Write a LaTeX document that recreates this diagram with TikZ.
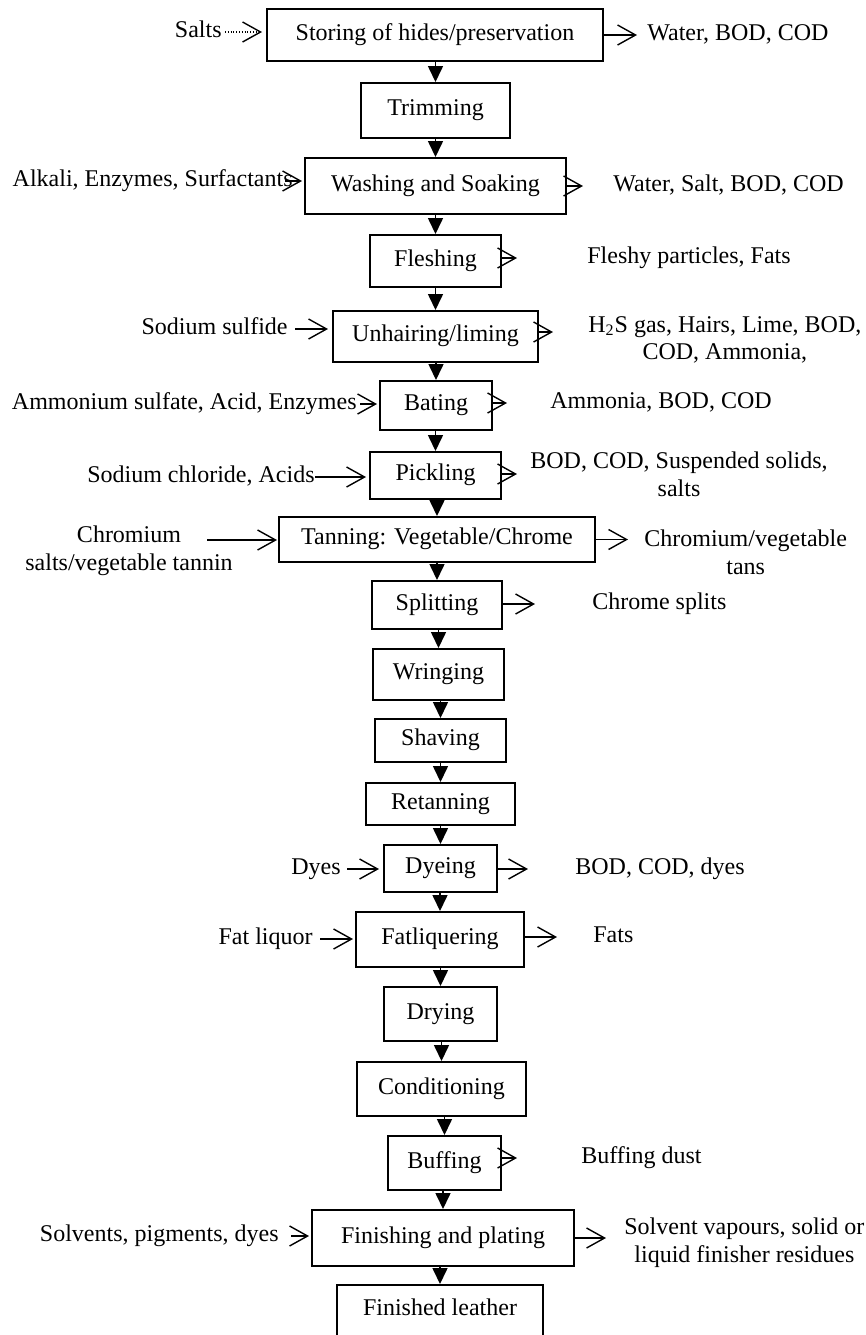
\documentclass[tikz,border=0pt]{standalone}
\usepackage{fontspec}
\setmainfont{Liberation Serif}
\usetikzlibrary{arrows.meta}
\newcommand{\myfs}{\fontsize{12pt}{13.8pt}\selectfont}
\begin{document}
\begin{tikzpicture}[x=0.5pt,y=-0.5pt,
  box/.style={draw,line width=1pt,inner sep=0pt,text height=8pt,text depth=3pt,font=\myfs},
  lbl/.style={inner sep=0pt,font=\myfs,text height=8pt,text depth=2.5pt},
  mlbl/.style={inner sep=0pt,font=\myfs,align=center},
  down/.style={line width=0.8pt,-{Triangle[length=8pt,width=7.5pt]}},
  arr/.style={line width=0.7pt,-{Straight Barb[length=9pt,width=10pt,line width=0.7pt]}},
  dots/.style={line width=0.6pt,dash pattern=on 0.5pt off 0.9pt}]
\useasboundingbox (0,0) rectangle (866,1335);
% process boxes
\node[box,minimum width=168pt,minimum height=26pt] (b1) at (435,35) {Storing of hides/preservation};
\node[box,minimum width=74.5pt,minimum height=27.5pt] (b2) at (435.5,110.5) {Trimming};
\node[box,minimum width=130.5pt,minimum height=28pt] (b3) at (435.5,186) {Washing and Soaking};
\node[box,minimum width=65.5pt,minimum height=26pt] (b4) at (435.5,261) {Fleshing};
\node[box,minimum width=102.5pt,minimum height=25.5pt] (b5) at (435.5,336.5) {Unhairing/liming};
\node[box,minimum width=56pt,minimum height=24.5pt] (b6) at (436,405.5) {Bating};
\node[box,minimum width=65.5pt,minimum height=23.5pt] (b7) at (435.5,475.5) {Pickling};
\node[box,minimum width=158pt,minimum height=22.5pt] (b8) at (437,539.5) {Tanning: Vegetable/Chrome};
\node[box,minimum width=65pt,minimum height=24pt] (b9) at (437,605) {Splitting};
\node[box,minimum width=65.5pt,minimum height=25.5pt] (b10) at (438.5,674.5) {Wringing};
\node[box,minimum width=65.5pt,minimum height=21.5pt] (b11) at (440.5,740.5) {Shaving};
\node[box,minimum width=74.5pt,minimum height=21pt] (b12) at (440.5,804) {Retanning};
\node[box,minimum width=56.5pt,minimum height=23.5pt] (b13) at (440.5,868.5) {Dyeing};
\node[box,minimum width=84pt,minimum height=27.5pt] (b14) at (440,939.5) {Fatliquering};
\node[box,minimum width=56.5pt,minimum height=27pt] (b15) at (440.5,1014) {Drying};
\node[box,minimum width=84.5pt,minimum height=27pt] (b16) at (441.5,1089) {Conditioning};
\node[box,minimum width=56.5pt,minimum height=27pt] (b17) at (444.5,1163) {Buffing};
\node[box,minimum width=131pt,minimum height=28pt] (b18) at (443,1238) {Finishing and plating};
\node[box,minimum width=103pt,minimum height=30pt,text height=8pt,text depth=8pt] (b19) at (440,1315) {Finished leather};
% main flow
\foreach \a/\b in {b1/b2,b2/b3,b3/b4,b4/b5,b5/b6,b6/b7,b7/b8,b8/b9,b9/b10,b10/b11,b11/b12,b12/b13,b13/b14,b14/b15,b15/b16,b16/b17,b17/b18,b18/b19}
  \draw[down] (\b.north |- \a.south) -- (\b.north);
% inputs (left)
\node[lbl,anchor=east] (salts) at (222,32) {Salts};
\draw[arr,dots] ([xshift=1.5pt]salts.east) -- ([xshift=-2pt]salts.east -| b1.west);
\node[lbl,anchor=east] (alk) at (293,181) {Alkali, Enzymes, Surfactants};
\draw[arr] ([xshift=-4pt]alk.east) -- ([xshift=-1pt]alk.east -| b3.west);
\node[lbl,anchor=east] (ssul) at (288,329) {Sodium sulfide};
\draw[arr,shorten <=3.5pt,shorten >=2pt] (ssul.east) -- (ssul.east -| b5.west);
\node[lbl,anchor=east] (amm) at (357,404) {Ammonium sulfate, Acid, Enzymes};
\draw[arr,shorten <=1.5pt,shorten >=1pt] (amm.east) -- (amm.east -| b6.west);
\node[lbl,anchor=east] (scl) at (315,477) {Sodium chloride, Acids};
\draw[arr,shorten >=1.5pt] (scl.east) -- (scl.east -| b7.west);
\node[mlbl] (chr) at (129,551) {Chromium\\salts/vegetable tannin};
\coordinate (chrs) at (207,540);
\draw[arr,shorten >=0.5pt] (chrs) -- (chrs -| b8.west);
\node[lbl,anchor=east] (dyes) at (341,869) {Dyes};
\draw[arr,shorten <=3pt,shorten >=2pt] (dyes.east) -- (dyes.east -| b13.west);
\node[lbl,anchor=east] (fatl) at (313,939) {Fat liquor};
\draw[arr,shorten <=3.5pt,shorten >=1pt] (fatl.east) -- (fatl.east -| b14.west);
\node[lbl,anchor=east] (solv) at (279,1236) {Solvents, pigments, dyes};
\draw[arr,shorten <=6pt,shorten >=1pt] (solv.east) -- (solv.east -| b18.west);
% outputs (right)
\node[lbl,anchor=west] (o1) at (647,35) {Water, BOD, COD};
\draw[arr,shorten >=5pt] (b1.east) -- (b1.east -| o1.west);
\node[lbl,anchor=west] (o3) at (613,186) {Water, Salt, BOD, COD};
\draw[arr,shorten >=15pt] (b3.east |- o3.west) -- (o3.west);
\node[lbl,anchor=west] (o4) at (587,258) {Fleshy particles, Fats};
\draw[arr,shorten >=35pt] (b4.east |- o4.west) -- (o4.west);
\node[mlbl,anchor=west] (o5) at (588,340) {H\textsubscript{2}S gas, Hairs, Lime, BOD,\\COD, Ammonia,};
\coordinate (o5a) at (0,332);
\draw[arr,shorten >=17.5pt] (b5.east |- o5a) -- (o5.west |- o5a);
\node[lbl,anchor=west] (o6) at (550,403) {Ammonia, BOD, COD};
\draw[arr,shorten >=21.5pt] (b6.east |- o6.west) -- (o6.west);
\node[mlbl,anchor=west] (o7) at (530,474) {BOD, COD, Suspended solids,\\salts};
\draw[arr,shorten >=6.5pt] (b7.east |- o7.west) -- (o7.west);
\node[mlbl,anchor=west] (o8) at (644,552) {Chromium/vegetable\\tans};
\draw[arr,shorten >=8pt] (b8.east) -- (b8.east -| o8.west);
\node[lbl,anchor=west] (o9) at (592,604) {Chrome splits};
\draw[arr,shorten >=28.5pt] (b9.east |- o9.west) -- (o9.west);
\node[lbl,anchor=west] (o13) at (575,869) {BOD, COD, dyes};
\draw[arr,shorten >=23.5pt] (b13.east |- o13.west) -- (o13.west);
\node[lbl,anchor=west] (o14) at (593,937) {Fats};
\draw[arr,shorten >=18pt] (b14.east |- o14.west) -- (o14.west);
\node[lbl,anchor=west] (o17) at (581,1158) {Buffing dust};
\draw[arr,shorten >=32pt] (b17.east |- o17.west) -- (o17.west);
\node[mlbl,anchor=west] (o18) at (624,1243) {Solvent vapours, solid or\\liquid finisher residues};
\draw[arr,shorten >=9pt] (b18.east) -- (b18.east -| o18.west);
\end{tikzpicture}
\end{document}
